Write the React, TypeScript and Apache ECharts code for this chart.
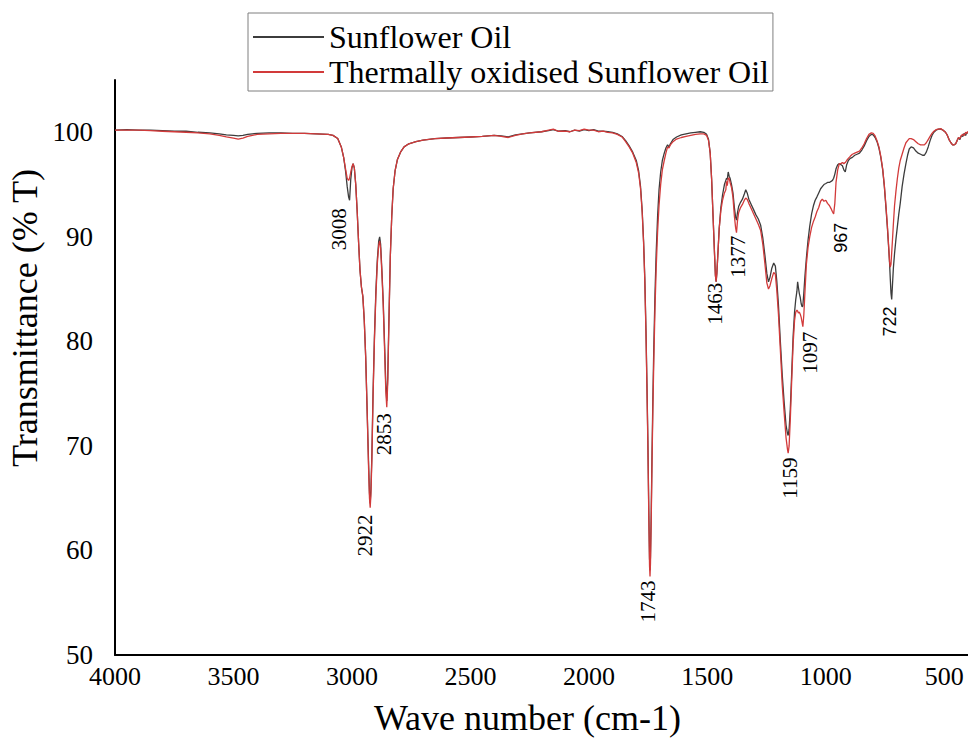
import { useEffect, useRef } from "react";
import * as echarts from "echarts";

// FTIR spectra: wavenumber (cm-1) and transmittance (% T) of both oils
const wavenumbers = [
  4000, 3950, 3900, 3850, 3800, 3750, 3700, 3650, 3600, 3560, 3530, 3500, 3480, 3460, 3440, 3420, 3400, 3350, 3300, 3250,
  3200, 3150, 3100, 3080, 3060, 3045, 3035, 3027, 3020, 3014, 3010, 3005, 3000, 2995, 2990, 2984, 2978, 2972, 2966, 2960,
  2954, 2948, 2942, 2936, 2930, 2926, 2923, 2920, 2916, 2911, 2905, 2899, 2893, 2887, 2883, 2879, 2874, 2868, 2862, 2857,
  2853, 2849, 2844, 2838, 2832, 2826, 2818, 2808, 2795, 2780, 2760, 2730, 2700, 2650, 2600, 2550, 2500, 2450, 2400, 2370,
  2340, 2310, 2280, 2250, 2200, 2170, 2150, 2130, 2100, 2080, 2060, 2040, 2020, 2000, 1980, 1960, 1940, 1920, 1900, 1880,
  1860, 1845, 1830, 1815, 1800, 1790, 1782, 1775, 1769, 1764, 1759, 1755, 1751, 1747, 1744, 1742, 1740, 1737, 1734, 1730,
  1726, 1721, 1716, 1710, 1704, 1697, 1690, 1682, 1675, 1668, 1662, 1656, 1645, 1630, 1610, 1590, 1570, 1550, 1530, 1515,
  1503, 1495, 1488, 1482, 1476, 1470, 1466, 1463, 1460, 1456, 1450, 1443, 1436, 1428, 1422, 1419, 1416, 1412, 1408, 1404,
  1398, 1392, 1386, 1381, 1377, 1373, 1368, 1360, 1352, 1344, 1338, 1332, 1325, 1315, 1305, 1295, 1285, 1275, 1266, 1257,
  1249, 1242, 1236, 1228, 1220, 1213, 1207, 1200, 1192, 1184, 1176, 1168, 1162, 1159, 1155, 1150, 1144, 1138, 1132, 1127,
  1122, 1119, 1116, 1112, 1108, 1104, 1100, 1097, 1093, 1088, 1082, 1075, 1068, 1060, 1052, 1045, 1038, 1030, 1022, 1015,
  1008, 1000, 993, 985, 978, 972, 967, 962, 957, 950, 943, 936, 930, 924, 918, 912, 905, 897, 888, 878,
  868, 858, 848, 838, 828, 818, 808, 800, 792, 784, 776, 768, 760, 753, 746, 740, 735, 731, 728, 725,
  722, 719, 715, 710, 704, 698, 692, 686, 678, 670, 662, 655, 648, 640, 630, 620, 610, 600, 592, 584,
  576, 568, 560, 552, 544, 535, 525, 515, 505, 495, 487, 480, 472, 465, 458, 452, 446, 440, 434, 428,
  422, 416, 410, 405, 400,
];

const sunflowerOil = [
  100.2, 100.25, 100.2, 100.2, 100.15, 100.1, 100.1, 100.0, 99.95, 99.85, 99.75, 99.7, 99.65, 99.7, 99.8, 99.85, 99.9, 99.95, 99.95, 99.9,
  99.9, 99.85, 99.8, 99.7, 99.4, 98.6, 97.6, 96.3, 94.8, 93.8, 93.5, 95.5, 96.6, 97.0, 96.6, 95.0, 92.5, 89.5, 86.8, 85.2,
  84.3, 82.0, 78.5, 73.5, 68.5, 65.5, 64.5, 65.8, 69.0, 75.0, 80.5, 84.8, 87.8, 89.6, 90.0, 89.3, 87.0, 83.8, 79.5, 75.8,
  74.3, 76.5, 82.0, 88.2, 92.0, 94.6, 96.3, 97.4, 98.1, 98.6, 98.9, 99.1, 99.25, 99.4, 99.45, 99.5, 99.55, 99.6, 99.7, 99.65,
  99.55, 99.75, 99.85, 99.95, 100.05, 100.15, 100.25, 100.1, 100.15, 100.05, 100.2, 100.1, 100.25, 100.15, 100.25, 100.1, 100.1, 100.05, 100.0, 99.85,
  99.6, 99.2, 98.7, 98.1, 97.3, 96.3, 94.8, 92.5, 89.5, 86.0, 81.0, 76.0, 70.5, 63.5, 59.2, 58.1, 59.5, 63.5, 68.5, 74.5,
  79.5, 84.5, 88.5, 92.0, 94.5, 96.2, 97.3, 98.0, 98.5, 98.8, 98.6, 98.9, 99.3, 99.55, 99.75, 99.85, 99.95, 100.0, 100.05, 100.0,
  99.8, 99.3, 98.0, 95.5, 92.0, 88.5, 86.3, 85.7, 86.5, 88.2, 90.8, 92.8, 94.0, 95.0, 95.4, 95.6, 95.5, 96.2, 95.8, 95.6,
  95.0, 94.2, 92.8, 91.9, 91.6, 92.3, 92.9, 93.3, 93.6, 94.1, 94.5, 94.2, 93.6, 93.1, 92.6, 92.1, 91.7, 91.1, 89.9, 88.2,
  86.5, 85.7, 86.1, 87.0, 87.5, 87.2, 85.8, 83.5, 80.0, 76.8, 74.2, 72.0, 71.2, 71.0, 71.6, 73.5, 77.0, 80.5, 82.8, 84.0,
  84.8, 85.7, 85.2, 84.6, 84.2, 83.6, 83.3, 83.4, 84.6, 86.3, 88.0, 89.7, 91.0, 92.2, 93.0, 93.5, 93.8, 94.2, 94.6, 94.8,
  95.0, 95.1, 95.2, 95.2, 95.3, 95.4, 95.6, 96.0, 96.5, 96.9, 97.0, 96.9, 96.8, 96.4, 96.2, 96.9, 97.3, 97.5, 97.6, 97.8,
  97.9, 98.0, 98.3, 98.7, 99.2, 99.6, 99.8, 99.75, 99.5, 99.1, 98.5, 97.6, 96.4, 94.8, 92.7, 90.8, 89.0, 87.5, 86.0, 84.6,
  84.0, 85.3, 87.0, 88.4, 89.8, 91.0, 92.2, 93.2, 94.8, 96.0, 97.0, 97.8, 98.4, 98.6, 98.5, 98.2, 98.0, 97.9, 97.8, 97.8,
  98.1, 98.6, 99.2, 99.7, 100.0, 100.2, 100.3, 100.3, 100.2, 100.0, 99.7, 99.3, 99.0, 98.8, 98.8, 98.9, 99.2, 99.5, 99.3, 99.7,
  99.6, 99.9, 99.7, 100.0, 99.9,
];

const oxidisedOil = [
  100.2, 100.2, 100.2, 100.15, 100.1, 100.05, 100.0, 99.95, 99.85, 99.7, 99.55, 99.45, 99.35, 99.45, 99.6, 99.7, 99.8, 99.85, 99.9, 99.9,
  99.9, 99.85, 99.8, 99.7, 99.4, 98.6, 97.6, 96.5, 95.6, 95.4, 95.6, 96.2, 96.7, 97.0, 96.6, 95.0, 92.5, 89.5, 86.8, 85.2,
  84.3, 82.0, 78.5, 73.5, 68.0, 65.0, 64.1, 65.3, 68.6, 74.6, 80.2, 84.4, 87.4, 89.2, 89.6, 88.9, 86.7, 83.5, 79.0, 75.2,
  73.7, 76.0, 81.8, 88.2, 92.0, 94.6, 96.3, 97.4, 98.1, 98.6, 98.9, 99.1, 99.25, 99.4, 99.45, 99.5, 99.55, 99.6, 99.7, 99.6,
  99.5, 99.7, 99.85, 99.95, 100.05, 100.2, 100.3, 100.1, 100.1, 100.05, 100.2, 100.15, 100.3, 100.2, 100.2, 100.05, 100.1, 100.0, 99.95, 99.8,
  99.55, 99.1, 98.6, 98.0, 97.1, 96.1, 94.6, 92.3, 89.3, 85.8, 80.7, 75.6, 70.0, 63.0, 58.5, 57.5, 58.8, 62.8, 67.8, 73.5,
  78.2, 83.2, 87.0, 90.5, 93.0, 95.0, 96.4, 97.3, 98.0, 98.6, 98.5, 98.8, 99.1, 99.35, 99.5, 99.6, 99.7, 99.8, 99.85, 99.85,
  99.7, 99.2, 98.0, 95.5, 92.0, 88.5, 86.3, 85.7, 86.5, 88.2, 90.8, 92.5, 93.5, 94.2, 94.5, 95.3, 94.9, 95.6, 95.6, 95.2,
  94.7, 93.8, 92.0, 90.9, 90.4, 91.5, 92.3, 92.8, 93.1, 93.5, 93.7, 93.6, 93.2, 92.7, 92.2, 91.7, 91.2, 90.6, 89.3, 87.4,
  85.6, 85.0, 85.3, 86.0, 86.6, 86.4, 84.9, 82.6, 79.2, 75.8, 73.2, 70.8, 69.7, 69.3, 70.0, 72.5, 76.3, 79.8, 82.0, 82.8,
  83.0, 82.9, 82.7, 82.8, 82.6, 82.3, 81.8, 81.4, 82.5, 84.8, 87.4, 89.0, 90.0, 90.9, 91.5, 91.9, 92.4, 92.8, 93.4, 93.6,
  93.4, 93.5, 93.2, 93.0, 92.7, 92.4, 92.2, 93.2, 95.2, 96.4, 97.0, 97.0, 97.1, 97.0, 97.1, 97.3, 97.5, 97.7, 97.9, 98.0,
  98.1, 98.2, 98.5, 98.9, 99.4, 99.8, 99.95, 99.9, 99.65, 99.2, 98.6, 97.7, 96.5, 94.9, 92.9, 91.0, 89.2, 87.6, 87.1, 87.4,
  88.5, 89.6, 91.2, 93.0, 94.4, 95.6, 96.6, 97.3, 97.9, 98.5, 99.0, 99.2, 99.4, 99.4, 99.3, 99.1, 98.9, 98.8, 98.8, 98.8,
  99.0, 99.3, 99.6, 99.9, 100.1, 100.25, 100.3, 100.35, 100.2, 100.0, 99.7, 99.3, 99.0, 98.8, 98.8, 98.9, 99.2, 99.5, 99.4, 99.7,
  99.8, 99.7, 100.0, 99.9, 100.1,
];

const seriesNames = ["Sunflower Oil", "Thermally oxidised Sunflower Oil"];
const xTickValues = [4000, 3500, 3000, 2500, 2000, 1500, 1000, 500];
const yTickValues = [50, 60, 70, 80, 90, 100];
const peakWavenumbers = [3008, 2922, 2853, 1743, 1463, 1377, 1159, 1097, 967, 722];

// Pixel nudges of each band label from the foot of its band
const labelOffsets: [number, number][] = [
  [-11, 29], [-5, 28], [-3, 27], [-2, 25], [-1, 22], [1, 24], [2, 25], [7, 26], [7, 24], [-2, 22],
];
const sansLabels = new Set(["967", "722"]);

const SERIF = "Liberation Serif";
const SANS = "Liberation Sans";

export default function App() {
  const ref = useRef<HTMLDivElement>(null);

  useEffect(() => {
    if (!ref.current) return;
    const chart = echarts.init(ref.current, null, { renderer: "svg" });

    const toPairs = (values: number[]) => wavenumbers.map((w, i) => [w, values[i]]);
    const plain = (v: number) => String(v);

    chart.setOption({
      animation: false,
      backgroundColor: "#ffffff",
      textStyle: { fontFamily: SERIF },
      grid: { left: 115, right: 0, top: 80, bottom: 91, containLabel: false },
      legend: {
        data: seriesNames,
        orient: "vertical",
        left: 248,
        top: 13,
        padding: [8, 4, 3, 4],
        itemGap: 3,
        itemWidth: 71,
        itemHeight: 2,
        itemStyle: { opacity: 0 },
        borderColor: "#7f7f7f",
        borderWidth: 1,
        textStyle: { fontFamily: SERIF, fontSize: 32, color: "#000" },
      },
      xAxis: {
        type: "value",
        inverse: true,
        min: 400,
        max: 4000,
        name: "Wave number (cm-1)",
        nameLocation: "middle",
        nameGap: 45,
        nameTextStyle: { fontFamily: SERIF, fontSize: 36, color: "#000", padding: [0, 28, 0, 0] },
        axisLine: { show: true, onZero: false, lineStyle: { color: "#000", width: 2 } },
        axisTick: { show: false },
        splitLine: { show: false },
        axisLabel: {
          customValues: xTickValues,
          formatter: plain,
          fontFamily: SERIF,
          fontSize: 26,
          color: "#000",
          margin: 8,
        },
      },
      yAxis: {
        type: "value",
        min: 50,
        max: 105,
        axisLine: { show: true, lineStyle: { color: "#000", width: 2 } },
        axisTick: { show: false },
        splitLine: { show: false },
        axisLabel: {
          customValues: yTickValues,
          formatter: plain,
          fontFamily: SERIF,
          fontSize: 27,
          color: "#000",
          margin: 22,
        },
      },
      series: [
        {
          name: seriesNames[0],
          type: "line",
          data: toPairs(sunflowerOil),
          symbol: "none",
          lineStyle: { color: "#3c3c3c", width: 1.3 },
          itemStyle: { color: "#3c3c3c" },
          z: 2,
        },
        {
          name: seriesNames[1],
          type: "line",
          data: toPairs(oxidisedOil),
          symbol: "none",
          lineStyle: { color: "#d23a3a", width: 1.3 },
          itemStyle: { color: "#d23a3a" },
          z: 3,
        },
      ],
    });

    // Band labels sit just beyond the deepest point of each band
    const bandLabels = peakWavenumbers.map((p, k) => {
      let foot = Infinity;
      wavenumbers.forEach((w, i) => {
        if (Math.abs(w - p) <= 8) foot = Math.min(foot, sunflowerOil[i], oxidisedOil[i]);
      });
      const [px, py] = chart.convertToPixel({ gridIndex: 0 }, [p, foot]) as number[];
      const text = String(p);
      const sans = sansLabels.has(text);
      return {
        type: "text",
        x: px + labelOffsets[k][0],
        y: py + labelOffsets[k][1],
        rotation: Math.PI / 2,
        silent: true,
        style: {
          text,
          fill: "#000",
          fontFamily: sans ? SANS : SERIF,
          fontSize: sans ? 18 : 21,
          align: "center",
          verticalAlign: "middle",
        },
      };
    });

    chart.setOption({
      graphic: [
        {
          type: "text",
          x: 25,
          y: 318,
          rotation: Math.PI / 2,
          silent: true,
          style: {
            text: "Transmittance (% T)",
            fill: "#000",
            fontFamily: SERIF,
            fontSize: 36,
            align: "center",
            verticalAlign: "middle",
          },
        },
        ...bandLabels,
      ],
    });

    return () => chart.dispose();
  }, []);

  return (
    <div
      ref={ref}
      style={{ position: "absolute", left: 0, top: 0, width: 968, height: 746 }}
    />
  );
}
